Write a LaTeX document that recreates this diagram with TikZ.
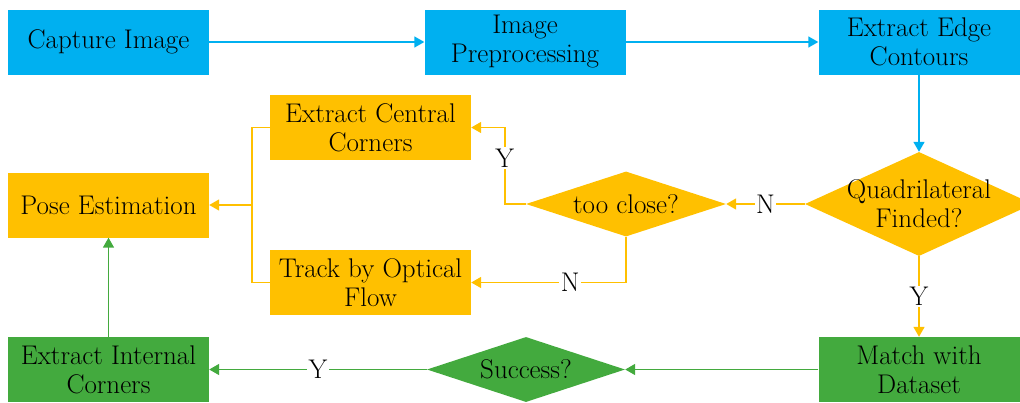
\documentclass[tikz,border=0pt]{standalone}
\usetikzlibrary{shapes.geometric,arrows.meta}
\definecolor{cblue}{HTML}{00B0F0}
\definecolor{corange}{HTML}{FFC000}
\definecolor{cgreen}{RGB}{67,170,62}
\begin{document}
\begin{tikzpicture}[x=1pt,y=-1pt,
  font=\fontsize{27}{29}\selectfont,
  boxnode/.style={rectangle, minimum width=201pt, minimum height=65pt, inner sep=0pt, align=center},
  dianode/.style={diamond, inner sep=0pt},
  lbl/.style={fill=white, text=black, inner sep=1.5pt},
  wire/.style={line width=1.6pt},
  conn/.style={wire, -{Triangle[length=10pt,width=11pt]}},
]
\useasboundingbox (0,0) rectangle (1020,402);
% boxes
\node[boxnode, fill=cblue] (cap) at (108.5,42) {Capture Image};
\node[boxnode, fill=cblue] (pre) at (525,42) {Image\\Preprocessing};
\node[boxnode, fill=cblue] (edge) at (919,42) {Extract Edge\\Contours};
\node[boxnode, fill=corange] (cent) at (370.5,127.5) {Extract Central\\Corners};
\node[boxnode, fill=corange] (pose) at (108.5,205) {Pose Estimation};
\node[boxnode, fill=corange] (track) at (370.5,282.5) {Track by Optical\\Flow};
\node[boxnode, fill=cgreen] (intc) at (108.5,369.5) {Extract Internal\\Corners};
\node[boxnode, fill=cgreen] (match) at (919,369.5) {Match with\\Dataset};
% diamonds
\node[dianode, fill=corange, minimum width=228pt, minimum height=104pt] (quad) at (919,204) {};
\node[align=center, inner sep=0pt] (quadt) at (quad.center) {Quadrilateral\\Finded?};
\node[dianode, fill=corange, minimum width=200pt, minimum height=65pt] (close) at (626,204) {};
\node[inner sep=0pt] (closet) at (close.center) {too close?};
\node[dianode, fill=cgreen, minimum width=198pt, minimum height=65pt] (succ) at (526,369.5) {};
\node[inner sep=0pt] (succt) at (succ.center) {Success?};
% connectors
\draw[conn, cblue] (cap) -- (pre);
\draw[conn, cblue] (pre) -- (edge);
\draw[conn, cblue] (edge) -- (quad.north);
\draw[conn, corange] (quad.west) -- node[lbl]{N} (close.east);
\draw[conn, corange] (close.west) -- ++(-21,0) |- node[lbl, pos=0.3]{Y} (cent.east);
\draw[conn, corange] (close.south) |- node[lbl, pos=0.68]{N} (track.east);
\coordinate (jn) at (252,205);
\draw[wire, corange] (cent.west) -| (jn);
\draw[wire, corange] (track.west) -| (jn);
\draw[conn, corange] (jn) -- (pose.east);
\draw[conn, corange] (quad.south) -- node[lbl]{Y} (match.north);
\draw[conn, cgreen] (match.west) -- (succ.east);
\draw[conn, cgreen] (succ.west) -- node[lbl]{Y} (intc.east);
\draw[conn, cgreen] (intc.north) -- (pose.south);
\end{tikzpicture}
\end{document}
